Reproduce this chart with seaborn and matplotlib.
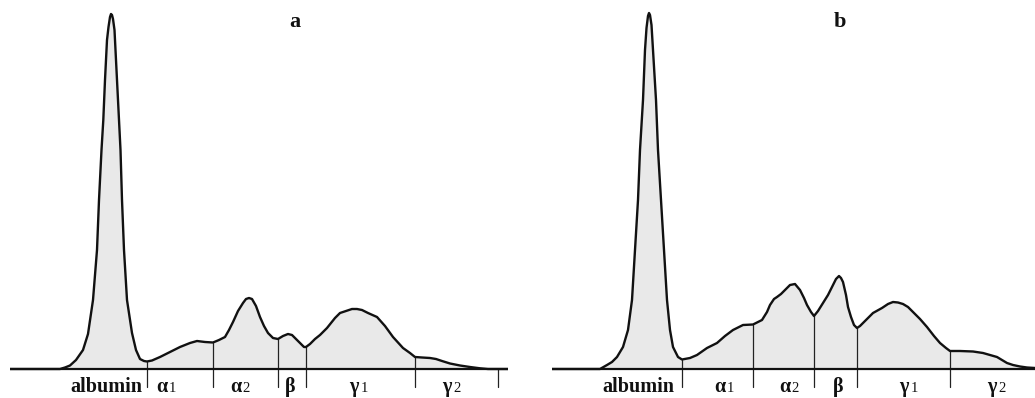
import numpy as np
import pandas as pd
import seaborn as sns
import matplotlib
matplotlib.use("Agg")
import matplotlib.pyplot as plt

# ---------------- data ----------------
# Panel a: densitometric trace, mobility (px units) vs absorbance (px units above baseline)
mob_a = [10, 60, 65, 70, 76, 83, 88, 93, 97, 99, 101.5, 103.3, 105, 107, 108.5, 110, 111, 112, 113,
         114.5, 115, 117, 119, 120.5, 122, 124, 127, 132, 136, 140, 144, 147, 152, 160, 170, 180, 190,
         197, 205, 213, 219, 225, 229, 233, 238, 243, 246, 249, 252, 256, 260, 264, 268, 273,
         278, 283, 288, 292, 296, 300, 304, 306, 310, 315, 320, 327, 335, 340, 346, 352, 357,
         362, 368, 377, 385, 393, 403, 410, 415, 422, 430, 436, 442, 450, 460, 470, 480, 488, 508]
pix_a = [369, 369, 367.5, 365.5, 360, 350, 334, 300, 250, 200, 150, 120, 80, 40, 27, 17, 14, 15, 19,
         30, 40, 80, 120, 150, 200, 250, 300, 333, 350, 359, 361, 361.5, 360.5, 357, 352, 347, 343,
         341, 342, 342.5, 340, 337, 330, 322, 311, 303, 299, 298, 299, 306, 317, 326, 333, 338,
         339, 336, 334, 335, 339, 343, 347, 347, 344, 339, 335, 328, 318, 313, 311, 309, 309,
         310, 313, 317, 326, 337, 348, 353, 357, 357.5, 358, 359, 361, 363.5, 365.5, 367, 368.3, 369, 369]

# Panel b
mob_b = [552, 600, 607, 612, 617, 623, 628, 632, 635, 638, 640, 643, 645, 646.5, 648, 649, 650, 651.5,
         653, 656, 658, 661, 664, 667, 670, 673, 678, 682, 690, 697, 707, 713, 717, 725, 733, 743, 753, 762,
         767, 770, 774, 777, 781, 785, 790, 795, 800, 804, 807, 811, 814, 818, 823, 828, 832, 836,
         839, 841, 843, 846, 848, 851, 854, 857, 860, 863, 868, 873, 882, 888, 893, 898, 903, 908,
         913, 920, 927, 934, 940, 946, 950, 960, 973, 983, 990, 997, 1002, 1007, 1013, 1020, 1027, 1035]
pix_b = [369, 369, 365, 362, 357, 347, 330, 300, 250, 200, 150, 100, 50, 28, 16, 13, 15, 25,
         50, 100, 150, 200, 250, 300, 330, 347, 357, 359.5, 358, 355, 348, 345, 343, 336, 330, 325, 324.5, 320,
         312, 305, 299, 297, 294, 290, 285, 284, 290, 298, 305, 312, 316, 311, 303, 295, 287, 279,
         276, 278, 282, 295, 307, 317, 325, 328, 326, 323, 318, 313, 308, 304, 302, 302.5, 304, 307,
         312, 319, 327, 336, 343, 348, 351, 351, 351.5, 353, 355, 357, 360, 363, 365, 366.5, 367.5, 368]

BASE = 369
dens_a = [BASE - p for p in pix_a]
dens_b = [BASE - p for p in pix_b]

# fraction boundaries
bounds_a = [147, 213, 278, 306, 415]
end_tick_a = [498]
bounds_b = [682, 753, 814, 857, 950]
end_tick_b = []

# fraction labels: (main glyph, subscript), glyph centre position
labels = ["albumin", "α", "α", "β", "γ", "γ"]
subs = ["", "1", "2", "", "1", "2"]
label_pos_a = [106, 162, 236, 290, 354, 447]
label_pos_b = [638, 720, 785, 838, 904, 992]

titles = ["a", "b"]
title_pos = [295, 840]
xspan_a = (10, 508)
xspan_b = (552, 1035)

# ---------------- drawing ----------------
sns.set_theme(style="white")
plt.rcParams["font.family"] = ["Liberation Serif", "DejaVu Serif"]

W, H = 1035, 398
fig = plt.figure(figsize=(W / 100, H / 100), dpi=100)
fig.patch.set_facecolor("white")

FILL = "#e9e9e9"

def panel(xspan, mob, dens, bounds, end_tick, lpos, title, tpos):
    x0, x1 = xspan
    ax = fig.add_axes([x0 / W, 0, (x1 - x0) / W, 1])
    ax.set_xlim(x0, x1)
    ax.set_ylim(BASE - H, BASE)
    ax.axis("off")
    df = pd.DataFrame({"mobility": mob, "density": dens})
    ax.fill_between(df["mobility"], 0, df["density"], color=FILL, lw=0, zorder=1)
    sns.lineplot(data=df, x="mobility", y="density", ax=ax, color="#111111",
                 lw=1.7, estimator=None, sort=False, zorder=3)
    ax.axhline(0, color="#111111", lw=1.6, zorder=4)
    for b in bounds:
        h = np.interp(b, mob, dens)
        ax.plot([b, b], [-18, h], color="#222222", lw=0.9, zorder=2)
    for b in end_tick:
        ax.plot([b, b], [-18, 0], color="#222222", lw=0.9, zorder=2)
    for lab, sub, p in zip(labels, subs, lpos):
        ax.text(p, -23, lab, ha="center", va="baseline", fontsize=14.5,
                fontweight="bold", color="#111111")
        if sub:
            ax.annotate(sub, xy=(p, -23), xytext=(4.5, 0), textcoords="offset points",
                        ha="left", va="baseline", fontsize=10.5, color="#111111")
    ax.text(tpos, BASE - 22, title, ha="center", va="center", fontsize=16,
            fontweight="bold", color="#111111")
    return ax

panel(xspan_a, mob_a, dens_a, bounds_a, end_tick_a, label_pos_a, titles[0], title_pos[0])
panel(xspan_b, mob_b, dens_b, bounds_b, end_tick_b, label_pos_b, titles[1], title_pos[1])

fig.savefig("out.png", dpi=100, facecolor="white")
